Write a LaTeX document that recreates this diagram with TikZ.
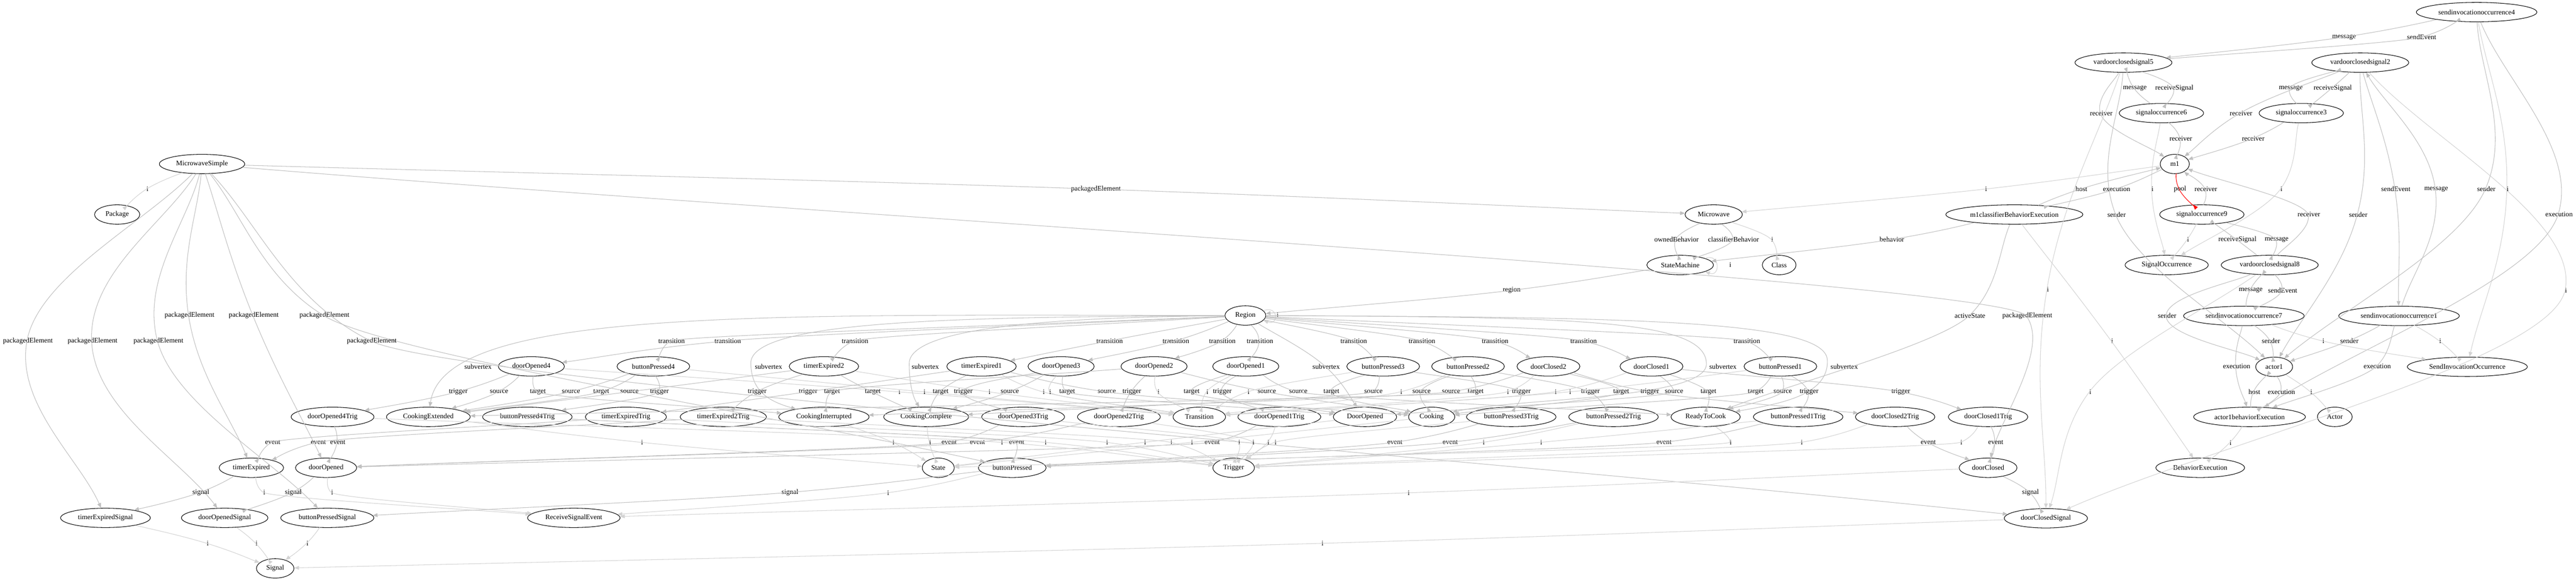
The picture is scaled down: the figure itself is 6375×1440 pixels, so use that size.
\documentclass[tikz,border=0pt]{standalone}
\usepackage{fontspec}
\setmainfont{Liberation Serif}
\usetikzlibrary{arrows.meta,shapes.geometric}
\definecolor{edgegray}{HTML}{C0C0C0}
\definecolor{edgelight}{HTML}{D3D3D3}
\newlength\lblw
\newcommand\lblfont{\fontsize{13}{15}\selectfont}
\newcommand\NODE[4]{%
  \node[nd] (#1) at (#2,#3) {#4};%
  \expandafter\gdef\csname nx@#1\endcsname{#2}%
  \expandafter\gdef\csname ny@#1\endcsname{#3}}
\newcommand\EDGE[6][]{%
  \node[lbl] at (#5,#6) {#4};%
  \setbox0=\hbox{\lblfont #4}\setlength\lblw{\wd0}%
  \edef\qSx{\csname nx@#2\endcsname}\edef\qSy{\csname ny@#2\endcsname}%
  \edef\qTx{\csname nx@#3\endcsname}\edef\qTy{\csname ny@#3\endcsname}%
  \pgfmathsetmacro\qMx{#5-(0.5*\lblw+1)/0.75-1}%
  \pgfmathsetmacro\qMy{#6}%
  \pgfmathsetmacro\qax{(\qMx-\qSx)/100}%
  \pgfmathsetmacro\qay{(\qMy-\qSy)/100}%
  \pgfmathsetmacro\qbx{(\qTx-\qMx)/100}%
  \pgfmathsetmacro\qby{(\qTy-\qMy)/100}%
  \pgfmathsetmacro\qla{max(veclen(\qax,\qay),0.001)}%
  \pgfmathsetmacro\qlb{max(veclen(\qbx,\qby),0.001)}%
  \pgfmathsetmacro\qux{\qax/\qla+\qbx/\qlb}%
  \pgfmathsetmacro\quy{\qay/\qla+\qby/\qlb}%
  \pgfmathsetmacro\qk{20*min(\qla,\qlb)}%
  \pgfmathsetmacro\qcAx{\qSx+\qax*100/3}%
  \pgfmathsetmacro\qcAy{\qSy+\qay*100/3}%
  \pgfmathsetmacro\qcBx{\qMx-\qux*\qk}%
  \pgfmathsetmacro\qcBy{\qMy-\quy*\qk}%
  \pgfmathsetmacro\qcCx{\qMx+\qux*\qk}%
  \pgfmathsetmacro\qcCy{\qMy+\quy*\qk}%
  \pgfmathsetmacro\qcDx{\qTx-\qbx*100/3}%
  \pgfmathsetmacro\qcDy{\qTy-\qby*100/3}%
  \draw[cx,#1] (#2) .. controls (\qcAx,\qcAy) and (\qcBx,\qcBy) .. (\qMx,\qMy) .. controls (\qcCx,\qcCy) and (\qcDx,\qcDy) .. (#3);%
}
\begin{document}
\begin{tikzpicture}[x=0.75pt,y=-0.75pt,
  nd/.style={draw=black,line width=1pt,ellipse,minimum width=54pt,minimum height=36pt,inner xsep=8pt,inner ysep=2pt,font=\lblfont},
  lbl/.style={inner sep=1pt,font=\lblfont,text=black},
  cx/.style={draw=edgegray,line width=1pt,-{Triangle[length=9pt,width=7pt]}},
  iedge/.style={draw=edgelight},
  pooledge/.style={draw=red}]
\useasboundingbox (0,0) rectangle (6375,1440);
\fill[white] (0,0) rectangle (6375,1440);
% ---------- nodes ----------
\NODE{MS}{500}{406}{MicrowaveSimple}
\NODE{Pkg}{290}{531}{Package}
\NODE{Mw}{4241}{531}{Microwave}
\NODE{SM}{4158}{656}{StateMachine}
\NODE{Cls}{4403}{656}{Class}
\NODE{Rg}{3082}{781}{Region}
\NODE{sio4}{6129}{30}{sendinvocationoccurrence4}
\NODE{vds5}{5255}{155}{vardoorclosedsignal5}
\NODE{vds2}{5841}{155}{vardoorclosedsignal2}
\NODE{so6}{5349}{280}{signaloccurrence6}
\NODE{so3}{5695}{280}{signaloccurrence3}
\NODE{m1}{5382}{406}{m1}
\NODE{m1cbe}{4985}{531}{m1classifierBehaviorExecution}
\NODE{so9}{5449}{531}{signaloccurrence9}
\NODE{SOc}{5362}{656}{SignalOccurrence}
\NODE{vds8}{5617}{656}{vardoorclosedsignal8}
\NODE{sio7}{5553}{782}{sendinvocationoccurrence7}
\NODE{sio1}{5937}{782}{sendinvocationoccurrence1}
\NODE{a1}{5628}{908}{actor1}
\NODE{SIO}{6106}{908}{SendInvocationOccurrence}
\NODE{a1be}{5567}{1032}{actor1behaviorExecution}
\NODE{Act}{5778}{1032}{Actor}
\NODE{BE}{5445}{1158}{BehaviorExecution}
% transitions
\NODE{tDO4}{1315}{907}{doorOpened4}
\NODE{tBP4}{1617}{907}{buttonPressed4}
\NODE{tTE2}{2039}{907}{timerExpired2}
\NODE{tTE1}{2429}{907}{timerExpired1}
\NODE{tDO3}{2626}{907}{doorOpened3}
\NODE{tDO2}{2856}{907}{doorOpened2}
\NODE{tDO1}{3083}{907}{doorOpened1}
\NODE{tBP3}{3423}{907}{buttonPressed3}
\NODE{tBP2}{3633}{907}{buttonPressed2}
\NODE{tDC2}{3832}{907}{doorClosed2}
\NODE{tDC1}{4087}{907}{doorClosed1}
\NODE{tBP1}{4406}{907}{buttonPressed1}
% triggers and states
\NODE{gDO4}{823}{1032}{doorOpened4Trig}
\NODE{sCE}{1060}{1032}{CookingExtended}
\NODE{gBP4}{1305}{1032}{buttonPressed4Trig}
\NODE{gTE}{1549}{1032}{timerExpiredTrig}
\NODE{gTE2}{1790}{1032}{timerExpired2Trig}
\NODE{sCI}{2039}{1032}{CookingInterrupted}
\NODE{sCC}{2292}{1032}{CookingComplete}
\NODE{gDO3}{2532}{1032}{doorOpened3Trig}
\NODE{gDO2}{2769}{1032}{doorOpened2Trig}
\NODE{Trn}{2968}{1032}{Transition}
\NODE{gDO1}{3166}{1032}{doorOpened1Trig}
\NODE{sDO}{3378}{1032}{DoorOpened}
\NODE{sCk}{3543}{1032}{Cooking}
\NODE{gBP3}{3740}{1032}{buttonPressed3Trig}
\NODE{gBP2}{3993}{1032}{buttonPressed2Trig}
\NODE{sRC}{4221}{1032}{ReadyToCook}
\NODE{gBP1}{4450}{1032}{buttonPressed1Trig}
\NODE{gDC2}{4690}{1032}{doorClosed2Trig}
\NODE{gDC1}{4920}{1032}{doorClosed1Trig}
% events
\NODE{eTE}{622}{1158}{timerExpired}
\NODE{eDO}{807}{1158}{doorOpened}
\NODE{Stt}{2322}{1158}{State}
\NODE{eBP}{2505}{1158}{buttonPressed}
\NODE{Trg}{3053}{1158}{Trigger}
\NODE{eDC}{4920}{1158}{doorClosed}
% signals
\NODE{sgTE}{261}{1282}{timerExpiredSignal}
\NODE{sgDO}{556}{1282}{doorOpenedSignal}
\NODE{sgBP}{810}{1282}{buttonPressedSignal}
\NODE{RSE}{1420}{1282}{ReceiveSignalEvent}
\NODE{sgDC}{5063}{1283}{doorClosedSignal}
\NODE{Sig}{681}{1407}{Signal}
% ---------- edges ----------
% package
\EDGE[iedge]{MS}{Pkg}{i}{365}{468}
\EDGE{MS}{sgTE}{packagedElement}{69}{844}
\EDGE{MS}{sgDO}{packagedElement}{229}{844}
\EDGE{MS}{sgBP}{packagedElement}{392}{844}
\EDGE{MS}{eTE}{packagedElement}{469}{781}
\EDGE{MS}{eDO}{packagedElement}{628}{781}
\EDGE{MS}{eBP}{packagedElement}{803}{781}
\EDGE{MS}{sgDC}{packagedElement}{920}{844}
\EDGE{MS}{Mw}{packagedElement}{2712}{468}
\EDGE{MS}{eDC}{packagedElement}{5017}{782}
% microwave class
\EDGE{Mw}{SM}{ownedBehavior}{4149}{593}
\EDGE{Mw}{SM}{classifierBehavior}{4290}{593}
\EDGE[iedge]{Mw}{Cls}{i}{4386}{593}
\draw[cx,iedge] (SM.15) .. controls +(38,-14) and +(38,14) .. (SM.-15);
\node[lbl] at (4282,655) {i};
\EDGE{SM}{Rg}{region}{3741}{719}
\draw[cx,iedge] (Rg.15) .. controls +(38,-14) and +(38,14) .. (Rg.-15);
\node[lbl] at (3162,780) {i};
% region -> transitions
\EDGE{Rg}{tDO4}{transition}{1801}{844}
\EDGE{Rg}{tBP4}{transition}{1662}{844}
\EDGE{Rg}{tTE2}{transition}{2116}{844}
\EDGE{Rg}{tTE1}{transition}{2746}{844}
\EDGE{Rg}{tDO3}{transition}{2910}{844}
\EDGE{Rg}{tDO2}{transition}{3025}{844}
\EDGE{Rg}{tDO1}{transition}{3118}{844}
\EDGE{Rg}{tBP3}{transition}{3350}{844}
\EDGE{Rg}{tBP2}{transition}{3519}{844}
\EDGE{Rg}{tDC2}{transition}{3700}{844}
\EDGE{Rg}{tDC1}{transition}{3919}{844}
\EDGE{Rg}{tBP1}{transition}{4323}{844}
% region -> subvertex
\draw[cx] (Rg) .. controls (1900,780) and (1100,760) .. (sCE);
\node[lbl] at (1183,907) {subvertex};
\draw[cx] (Rg) .. controls (2400,785) and (1855,790) .. (1858,900) .. controls (1860,960) and (1890,990) .. (sCI);
\node[lbl] at (1902,907) {subvertex};
\draw[cx] (Rg) .. controls (2700,785) and (2250,800) .. (2250,900) .. controls (2250,950) and (2260,985) .. (sCC);
\node[lbl] at (2290,907) {subvertex};
\EDGE{Rg}{sDO}{subvertex}{3282}{907}
\draw[cx] (Rg) .. controls (3900,785) and (4220,790) .. (4223,900) .. controls (4226,990) and (3750,985) .. (sCk);
\node[lbl] at (4264,907) {subvertex};
\draw[cx] (Rg) .. controls (4000,785) and (4515,790) .. (4522,890) .. controls (4528,980) and (4400,1000) .. (sRC);
\node[lbl] at (4564,907) {subvertex};
% transitions
\EDGE{tDO4}{gDO4}{trigger}{1134}{970}
\EDGE{tDO4}{sCE}{source}{1235}{970}
\EDGE{tDO4}{sCI}{target}{1331}{970}
\EDGE[iedge]{tDO4}{Trn}{i}{2226}{970}
\EDGE{tBP4}{gBP4}{trigger}{1632}{970}
\EDGE{tBP4}{sCE}{source}{1413}{970}
\EDGE{tBP4}{sCE}{target}{1488}{970}
\EDGE[iedge]{tBP4}{Trn}{i}{2288}{970}
\EDGE{tTE2}{gTE2}{trigger}{1874}{970}
\EDGE{tTE2}{sCE}{source}{1558}{970}
\EDGE{tTE2}{sCC}{target}{2160}{970}
\EDGE[iedge]{tTE2}{Trn}{i}{2449}{970}
\EDGE{tTE1}{gTE}{trigger}{2000}{970}
\EDGE{tTE1}{sCk}{source}{2739}{970}
\EDGE{tTE1}{sCC}{target}{2328}{970}
\EDGE[iedge]{tTE1}{Trn}{i}{2583}{970}
\EDGE{tDO3}{gDO3}{trigger}{2384}{970}
\EDGE{tDO3}{sCC}{source}{2499}{970}
\EDGE{tDO3}{sDO}{target}{2641}{970}
\EDGE[iedge]{tDO3}{Trn}{i}{2599}{970}
\EDGE{tDO2}{gDO2}{trigger}{2801}{970}
\EDGE{tDO2}{sCk}{source}{3135}{970}
\EDGE{tDO2}{sCI}{target}{2059}{970}
\EDGE[iedge]{tDO2}{Trn}{i}{2867}{970}
\EDGE{tDO1}{gDO1}{trigger}{3025}{970}
\EDGE{tDO1}{sRC}{source}{3213}{970}
\EDGE{tDO1}{sDO}{target}{2949}{970}
\EDGE[iedge]{tDO1}{Trn}{i}{2988}{970}
\EDGE{tBP3}{gBP3}{trigger}{3765}{970}
\EDGE{tBP3}{sCC}{source}{3399}{970}
\EDGE{tBP3}{sCk}{target}{3295}{970}
\EDGE[iedge]{tBP3}{Trn}{i}{3090}{970}
\EDGE{tBP2}{gBP2}{trigger}{3936}{970}
\EDGE{tBP2}{sCk}{source}{3518}{970}
\EDGE{tBP2}{sCE}{target}{3652}{970}
\EDGE[iedge]{tBP2}{Trn}{i}{3468}{970}
\EDGE{tDC2}{gDC2}{trigger}{4083}{970}
\EDGE{tDC2}{sCI}{source}{3591}{970}
\EDGE{tDC2}{sCk}{target}{4012}{970}
\EDGE[iedge]{tDC2}{Trn}{i}{3732}{970}
\EDGE{tDC1}{gDC1}{trigger}{4704}{970}
\EDGE{tDC1}{sDO}{source}{4143}{970}
\EDGE{tDC1}{sRC}{target}{4228}{970}
\EDGE[iedge]{tDC1}{Trn}{i}{3850}{970}
\EDGE{tBP1}{gBP1}{trigger}{4477}{970}
\EDGE{tBP1}{sRC}{source}{4412}{970}
\EDGE{tBP1}{sCk}{target}{4345}{970}
\EDGE[iedge]{tBP1}{Trn}{i}{3886}{970}
% triggers -> events
\EDGE{gDO4}{eDO}{event}{836}{1095}
\EDGE{gTE}{eTE}{event}{675}{1095}
\EDGE{gTE2}{eTE}{event}{788}{1095}
\EDGE{gDO3}{eDO}{event}{2349}{1095}
\EDGE{gDO2}{eDO}{event}{2419}{1095}
\EDGE{gDO1}{eDO}{event}{3000}{1095}
\EDGE{gBP4}{eBP}{event}{2516}{1095}
\EDGE{gBP3}{eBP}{event}{3452}{1095}
\EDGE{gBP2}{eBP}{event}{3589}{1095}
\EDGE{gBP1}{eBP}{event}{4118}{1095}
\EDGE{gDC2}{eDC}{event}{4772}{1095}
\EDGE{gDC1}{eDC}{event}{4939}{1095}
% triggers -> Trigger
\EDGE[iedge]{gDO4}{Trg}{i}{2480}{1095}
\EDGE[iedge]{gBP4}{Trg}{i}{2588}{1095}
\EDGE[iedge]{gTE}{Trg}{i}{2740}{1095}
\EDGE[iedge]{gTE2}{Trg}{i}{2899}{1095}
\EDGE[iedge]{gDO3}{Trg}{i}{3067}{1095}
\EDGE[iedge]{gDO2}{Trg}{i}{3102}{1095}
\EDGE[iedge]{gDO1}{Trg}{i}{3139}{1095}
\EDGE[iedge]{gBP3}{Trg}{i}{3157}{1095}
\EDGE[iedge]{gBP2}{Trg}{i}{3672}{1095}
\EDGE[iedge]{gBP1}{Trg}{i}{3814}{1095}
\EDGE[iedge]{gDC2}{Trg}{i}{4459}{1095}
\EDGE[iedge]{gDC1}{Trg}{i}{4854}{1095}
% states -> State
\EDGE[iedge]{sCE}{Stt}{i}{1589}{1095}
\EDGE[iedge]{sCI}{Stt}{i}{2211}{1095}
\EDGE[iedge]{sCC}{Stt}{i}{2302}{1095}
\EDGE[iedge]{sDO}{Stt}{i}{2834}{1095}
\EDGE[iedge]{sCk}{Stt}{i}{2950}{1095}
\EDGE[iedge]{sRC}{Stt}{i}{4283}{1095}
% events -> signals
\EDGE{eTE}{sgTE}{signal}{497}{1219}
\EDGE[iedge]{eTE}{RSE}{i}{654}{1219}
\EDGE{eDO}{sgDO}{signal}{726}{1219}
\EDGE[iedge]{eDO}{RSE}{i}{822}{1219}
\EDGE{eBP}{sgBP}{signal}{1955}{1219}
\EDGE[iedge]{eBP}{RSE}{i}{2198}{1220}
\EDGE{eDC}{sgDC}{signal}{5025}{1219}
\EDGE[iedge]{eDC}{RSE}{i}{3486}{1220}
\EDGE[iedge]{sgTE}{Sig}{i}{514}{1345}
\EDGE[iedge]{sgDO}{Sig}{i}{635}{1345}
\EDGE[iedge]{sgBP}{Sig}{i}{761}{1345}
\EDGE[iedge]{sgDC}{Sig}{i}{3273}{1345}
% right cluster
\EDGE{sio4}{vds5}{message}{5801}{92}
\EDGE{vds5}{sio4}{sendEvent}{5993}{92}
\EDGE{vds5}{so6}{receiveSignal}{5381}{218}
\EDGE{so6}{vds5}{message}{5283}{218}
\EDGE{vds5}{m1}{receiver}{5200}{280}
\EDGE{vds5}{a1}{sender}{5238}{531}
\EDGE[iedge]{vds5}{sgDC}{i}{5068}{716}
\EDGE{so6}{m1}{receiver}{5397}{343}
\EDGE[iedge]{so6}{SOc}{i}{5327}{468}
\EDGE{vds2}{so3}{receiveSignal}{5773}{218}
\EDGE{so3}{vds2}{message}{5669}{218}
\EDGE{vds2}{m1}{receiver}{5546}{280}
\EDGE{so3}{m1}{receiver}{5576}{343}
\EDGE[iedge]{so3}{SOc}{i}{5646}{468}
\EDGE{vds2}{a1}{sender}{5836}{531}
\EDGE{vds2}{sio1}{sendEvent}{5929}{468}
\EDGE{sio1}{vds2}{message}{6029}{468}
\EDGE[iedge]{vds2}{sgDC}{i}{6350}{719}
\EDGE{sio4}{a1}{sender}{6153}{468}
\EDGE[iedge]{sio4}{SIO}{i}{6206}{468}
\EDGE{sio4}{a1be}{execution}{6333}{531}
\EDGE[pooledge]{m1}{so9}{pool}{5395}{468}
\EDGE{so9}{m1}{receiver}{5459}{468}
\EDGE[iedge]{so9}{SOc}{i}{5415}{593}
\EDGE{vds8}{so9}{receiveSignal}{5537}{593}
\EDGE{so9}{vds8}{message}{5634}{593}
\EDGE{vds8}{m1}{receiver}{5714}{531}
\EDGE{vds8}{sio7}{sendEvent}{5649}{719}
\EDGE{sio7}{vds8}{message}{5570}{719}
\EDGE{vds8}{a1}{sender}{5363}{782}
\EDGE[iedge]{vds8}{sgDC}{i}{5173}{970}
\EDGE{sio7}{a1}{sender}{5620}{844}
\EDGE{sio7}{a1be}{execution}{5535}{907}
\EDGE[iedge]{sio7}{SIO}{i}{5750}{844}
\EDGE{sio1}{a1}{sender}{5814}{844}
\EDGE{sio1}{a1be}{execution}{5883}{907}
\EDGE[iedge]{sio1}{SIO}{i}{6039}{844}
\EDGE{a1}{a1be}{execution}{5646}{970}
\EDGE{a1be}{a1}{host}{5579}{970}
\EDGE[iedge]{a1}{Act}{i}{5720}{970}
\EDGE[iedge]{a1be}{BE}{i}{5520}{1096}
\EDGE[iedge]{m1}{Mw}{i}{4915}{468}
\EDGE{m1}{m1cbe}{execution}{5238}{468}
\EDGE{m1cbe}{m1}{host}{5151}{468}
\EDGE{m1cbe}{SM}{behavior}{4682}{593}
\EDGE{m1cbe}{sRC}{activeState}{4875}{782}
\EDGE[iedge]{m1cbe}{BE}{i}{5227}{844}
\end{tikzpicture}
\end{document}
